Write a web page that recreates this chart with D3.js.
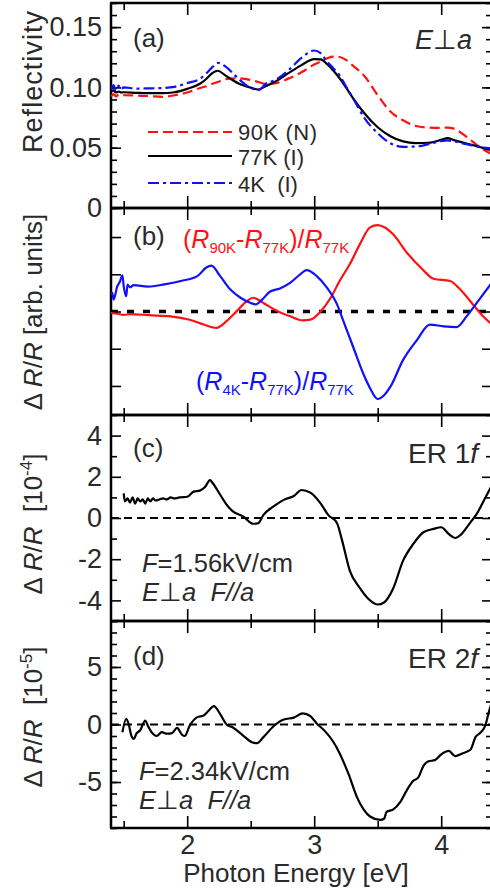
<!DOCTYPE html>
<html><head><meta charset="utf-8">
<script src="https://cdn.jsdelivr.net/npm/d3@7"></script>
<style>
body{margin:0;background:#fff}
svg{display:block}
text{font-family:"Liberation Sans",Arial,Helvetica,sans-serif;fill:#2a2a2a}
</style>
</head><body>
<svg id="chart" width="490" height="893"></svg>
<script>
// ---------------- DATA ----------------
// Panel (a): reflectivity
const energyA = [1.40,1.42,1.44,1.46,1.48,1.50,1.60,1.70,1.80,1.90,2.00,2.10,2.15,2.20,2.24,2.30,2.40,2.50,2.56,2.62,2.70,2.80,2.90,3.00,3.05,3.10,3.15,3.20,3.25,3.30,3.40,3.50,3.60,3.70,3.80,3.90,4.00,4.05,4.10,4.20,4.30,4.40];
const refl90K = [0.0925,0.0945,0.0925,0.0940,0.0930,0.0935,0.0933,0.0928,0.0922,0.0935,0.0958,0.0995,0.1010,0.1030,0.1045,0.1068,0.1076,0.1062,0.1045,0.1030,0.1036,0.1075,0.1125,0.1190,0.1215,0.1240,0.1255,0.1252,0.1228,0.1185,0.1088,0.0935,0.0800,0.0727,0.0680,0.0667,0.0665,0.0667,0.0658,0.0590,0.0507,0.0445];
const refl77K = [0.0968,0.0975,0.0958,0.0965,0.0958,0.0960,0.0955,0.0952,0.0952,0.0960,0.0988,0.1030,0.1070,0.1120,0.1138,0.1100,0.1035,0.0998,0.0982,0.1012,0.1052,0.1120,0.1185,0.1235,0.1232,0.1195,0.1140,0.1076,0.1000,0.0920,0.0780,0.0670,0.0595,0.0552,0.0538,0.0541,0.0565,0.0580,0.0563,0.0535,0.0507,0.0478];
const refl4K  = [0.0985,0.1020,0.0975,0.1015,0.0985,0.1000,0.0990,0.0992,0.0995,0.1005,0.1035,0.1072,0.1115,0.1170,0.1204,0.1175,0.1075,0.0995,0.0978,0.1030,0.1065,0.1145,0.1245,0.1306,0.1285,0.1215,0.1160,0.1100,0.1010,0.0920,0.0740,0.0620,0.0537,0.0507,0.0510,0.0529,0.0555,0.0560,0.0553,0.0529,0.0507,0.0493];
const reflTicks = [0, 0.05, 0.10, 0.15];

// Panel (b): difference spectra (arb. units)
const energyB90 = [1.40,1.45,1.50,1.55,1.70,1.87,2.02,2.13,2.23,2.31,2.39,2.47,2.52,2.60,2.71,2.81,2.91,2.97,3.05,3.13,3.20,3.28,3.36,3.44,3.50,3.56,3.62,3.73,3.85,3.94,4.07,4.15,4.25,4.33,4.40];
const diff90K  = [-0.04,-0.06,-0.09,-0.07,-0.10,-0.13,-0.22,-0.35,-0.44,-0.26,0.01,0.28,0.37,0.23,0.01,-0.13,-0.24,-0.22,0.00,0.37,0.82,1.27,1.81,2.26,2.32,2.25,2.08,1.58,1.14,0.88,0.82,0.59,0.19,-0.13,-0.35];
const energyB4 = [1.40,1.41,1.42,1.45,1.47,1.49,1.50,1.52,1.53,1.55,1.58,1.69,1.82,1.95,2.08,2.15,2.19,2.26,2.34,2.42,2.50,2.54,2.59,2.65,2.73,2.81,2.89,2.94,3.02,3.10,3.18,3.23,3.31,3.39,3.44,3.50,3.55,3.60,3.70,3.81,3.91,4.02,4.12,4.20,4.28,4.40];
const diff4K   = [0.45,0.50,0.32,0.68,0.80,0.97,0.68,0.41,0.72,0.65,0.71,0.67,0.73,0.82,0.95,1.18,1.23,0.95,0.59,0.37,0.23,0.19,0.32,0.53,0.62,0.77,1.00,1.11,0.95,0.64,0.19,-0.26,-0.98,-1.70,-2.06,-2.35,-2.25,-2.02,-1.30,-0.76,-0.35,-0.40,-0.42,-0.13,0.23,0.78];
const diffTicks = [-2,-1,0,1,2];

// Panel (c): ER 1f (x10^-4)
const energyC = [1.50,1.51,1.53,1.55,1.57,1.59,1.61,1.63,1.65,1.67,1.69,1.71,1.73,1.75,1.78,1.81,1.84,1.87,1.90,1.94,2.00,2.05,2.10,2.14,2.18,2.20,2.26,2.31,2.36,2.44,2.52,2.56,2.60,2.68,2.76,2.84,2.90,2.97,3.05,3.11,3.18,3.22,3.28,3.36,3.44,3.50,3.55,3.62,3.70,3.78,3.86,3.94,4.00,4.06,4.11,4.16,4.23,4.28,4.33,4.40];
const er1f = [1.2,0.8,0.95,0.75,1.0,0.7,0.95,0.8,0.9,0.7,0.95,0.8,0.95,0.85,0.9,0.95,0.9,1.0,0.95,1.0,1.03,1.28,1.33,1.5,1.84,1.7,1.13,0.65,0.32,0.08,-0.28,-0.25,0.15,0.56,0.88,1.07,1.36,1.23,0.71,0.15,-0.25,-1.1,-2.55,-3.4,-4.0,-4.2,-4.1,-3.45,-2.07,-1.26,-0.69,-0.53,-0.45,-0.78,-0.97,-0.78,-0.21,0.2,0.78,1.6];
const er1fTicks = [-4,-2,0,2,4];

// Panel (d): ER 2f (x10^-5)
const energyD = [1.49,1.52,1.54,1.56,1.58,1.60,1.63,1.67,1.69,1.73,1.76,1.80,1.84,1.88,1.92,1.96,1.98,2.02,2.08,2.13,2.17,2.21,2.26,2.31,2.36,2.44,2.51,2.55,2.60,2.68,2.76,2.84,2.91,2.97,3.02,3.09,3.15,3.20,3.27,3.34,3.39,3.44,3.52,3.55,3.57,3.62,3.68,3.73,3.78,3.82,3.86,3.90,3.95,4.00,4.06,4.11,4.17,4.23,4.27,4.31,4.35,4.37,4.40];
const er2f = [-0.67,0.5,0.0,-0.96,-1.25,-0.8,-0.5,0.35,-0.1,-0.8,-1.0,-0.67,-0.8,-0.75,-0.3,-0.9,-1.0,-0.1,0.64,0.78,1.22,1.6,0.9,0.0,-0.26,-0.96,-1.54,-1.62,-1.1,-0.15,0.43,0.6,0.96,0.72,0.09,-0.64,-1.5,-2.5,-4.3,-6.4,-7.4,-8.0,-8.3,-8.2,-7.6,-7.4,-6.7,-5.7,-4.9,-4.6,-3.6,-3.2,-3.1,-2.6,-2.3,-2.75,-2.5,-2.2,-1.1,-0.7,0.0,0.87,2.0];
const er2fTicks = [-5,0,5];

const xMajorTicks = [2,3,4];
const xMinorTicks = [1.5,2.5,3.5];
const legendLabels = ["90K (N)","77K (I)","4K  (I)"];

// ---------------- LAYOUT ----------------
const svg = d3.select("#chart");
const L = 111, R = 492;
const x = d3.scaleLinear().domain([1.4,4.4]).range([L,R]);
const FONT = 26, TICKFONT = 27;
const RED = "#ff1111", BLUE = "#1010ff";

const panels = [
  {id:"a", top:3,   bottom:208, domain:[0,0.17],  major:reflTicks, minor:d3.range(0,18).map(i=>i/100), fmt:d=>d===0?"0":d.toFixed(2), labels:true},
  {id:"b", top:208, bottom:415, domain:[-2.78,2.78], major:diffTicks, minor:[], fmt:null, labels:false},
  {id:"c", top:415, bottom:621, domain:[-5,5], major:er1fTicks, minor:[-5,-3,-1,1,3,5], fmt:d=>String(d), labels:true},
  {id:"d", top:621, bottom:828, domain:[-9,9], major:er2fTicks, minor:d3.range(-9,10), fmt:d=>String(d), labels:true}
];
panels.forEach(p=>{ p.y = d3.scaleLinear().domain(p.domain).range([p.bottom,p.top]); });

const defs = svg.append("defs");
panels.forEach(p=>{
  defs.append("clipPath").attr("id","clip-"+p.id)
    .append("rect").attr("x",L).attr("y",p.top).attr("width",R-L).attr("height",p.bottom-p.top);
});

function styleAxis(g){
  g.select(".domain").remove();
  g.selectAll(".tick line").attr("stroke","#000").attr("stroke-width",1.6);
  g.selectAll(".tick text").attr("font-size",TICKFONT).attr("fill","#2a2a2a")
    .attr("font-family",'"Liberation Sans",Arial,sans-serif');
}

// axes
panels.forEach((p,i)=>{
  const gl = svg.append("g").attr("transform",`translate(${L},0)`)
    .call(d3.axisLeft(p.y).tickValues(p.major).tickSize(-10).tickPadding(9)
      .tickFormat(p.labels ? p.fmt : ()=>""));
  styleAxis(gl);
  if(p.minor.length){
    const gm = svg.append("g").attr("transform",`translate(${L},0)`)
      .call(d3.axisLeft(p.y).tickValues(p.minor).tickSize(-6).tickFormat(()=>""));
    styleAxis(gm);
  }
  const gr = svg.append("g").attr("transform",`translate(${R},0)`)
    .call(d3.axisRight(p.y).tickValues(p.major).tickSize(-10).tickFormat(()=>""));
  styleAxis(gr);
  if(p.minor.length){
    const grm = svg.append("g").attr("transform",`translate(${R},0)`)
      .call(d3.axisRight(p.y).tickValues(p.minor).tickSize(-6).tickFormat(()=>""));
    styleAxis(grm);
  }
  const gt = svg.append("g").attr("transform",`translate(0,${p.top})`)
    .call(d3.axisTop(x).tickValues(xMajorTicks).tickSize(-12).tickFormat(()=>""));
  styleAxis(gt);
  const gtm = svg.append("g").attr("transform",`translate(0,${p.top})`)
    .call(d3.axisTop(x).tickValues(xMinorTicks).tickSize(-7).tickFormat(()=>""));
  styleAxis(gtm);
  const last = i===panels.length-1;
  const gb = svg.append("g").attr("transform",`translate(0,${p.bottom})`)
    .call(d3.axisBottom(x).tickValues(xMajorTicks).tickSize(-12).tickPadding(7)
      .tickFormat(last ? d=>String(d) : ()=>""));
  styleAxis(gb);
  const gbm = svg.append("g").attr("transform",`translate(0,${p.bottom})`)
    .call(d3.axisBottom(x).tickValues(xMinorTicks).tickSize(-7).tickFormat(()=>""));
  styleAxis(gbm);
});

// frame lines
panels.forEach(p=>{
  [p.top,p.bottom].forEach(yy=>{
    svg.append("line").attr("x1",L-1).attr("x2",R).attr("y1",yy).attr("y2",yy)
      .attr("stroke","#000").attr("stroke-width",2.5);
  });
});
svg.append("line").attr("x1",L).attr("x2",L).attr("y1",panels[0].top).attr("y2",panels[3].bottom)
  .attr("stroke","#000").attr("stroke-width",2.5);
svg.append("line").attr("x1",R).attr("x2",R).attr("y1",panels[0].top).attr("y2",panels[3].bottom)
  .attr("stroke","#000").attr("stroke-width",2.5);

// zero lines
const pb = panels[1], pc = panels[2], pd = panels[3];
svg.append("line").attr("x1",L).attr("x2",R).attr("y1",pb.y(0)).attr("y2",pb.y(0))
  .attr("stroke","#000").attr("stroke-width",3.5).attr("stroke-dasharray","7,9");
[pc,pd].forEach(p=>{
  svg.append("line").attr("x1",L).attr("x2",R).attr("y1",p.y(0)).attr("y2",p.y(0))
    .attr("stroke","#000").attr("stroke-width",2).attr("stroke-dasharray","8,5");
});

// curves
function drawCurve(p, xs, ys, color, dash, width){
  const line = d3.line().x(d=>x(d[0])).y(d=>p.y(d[1])).curve(d3.curveMonotoneX);
  svg.append("path").attr("clip-path",`url(#clip-${p.id})`)
    .datum(xs.map((v,i)=>[v,ys[i]]))
    .attr("d",line).attr("fill","none").attr("stroke",color)
    .attr("stroke-width",width||2.2).attr("stroke-dasharray",dash||null)
    .attr("stroke-linejoin","round");
}
const pa = panels[0];
drawCurve(pa, energyA, refl90K, RED, "10,5");
drawCurve(pa, energyA, refl77K, "#000", null);
drawCurve(pa, energyA, refl4K, BLUE, "11,4,3,4");
drawCurve(pb, energyB90, diff90K, RED, null);
drawCurve(pb, energyB4, diff4K, BLUE, null);
drawCurve(pc, energyC, er1f, "#000", null);
drawCurve(pd, energyD, er2f, "#000", null);

// legend (a)
const legStyles = [[RED,"10,5"],["#000",null],[BLUE,"11,4,3,4"]];
const legY = [132,156,183];
const legBase = [139.5,164.5,191.5];
legendLabels.forEach((lab,i)=>{
  svg.append("line").attr("x1",148).attr("x2",232).attr("y1",legY[i]).attr("y2",legY[i])
    .attr("stroke",legStyles[i][0]).attr("stroke-width",2.2).attr("stroke-dasharray",legStyles[i][1]);
  svg.append("text").attr("x",238).attr("y",legBase[i]).attr("font-size",22)
    .attr("textLength", i===0?79:null).attr("lengthAdjust","spacing")
    .style("white-space","pre").text(lab);
});

function txt(xp,yp,size,anchor){
  return svg.append("text").attr("x",xp).attr("y",yp).attr("font-size",size)
    .attr("text-anchor",anchor||"start").style("white-space","pre");
}
// panel labels
txt(133,47,FONT).text("(a)");
txt(133,245,FONT).text("(b)");
txt(133,457,FONT).text("(c)");
txt(133,665,FONT).text("(d)");

// E perp a (a)
{ const t = txt(472,49,27,"end");
  t.append("tspan").attr("font-style","italic").text("E");
  t.append("tspan").text("\u22A5");
  t.append("tspan").attr("font-style","italic").text("a"); }

// (b) labels
function diffLabel(xp,yp,color,sub1){
  const t = txt(xp,yp,25).style("fill",color);
  t.append("tspan").text("(");
  t.append("tspan").attr("font-style","italic").text("R");
  t.append("tspan").attr("font-size",15).attr("dy",5).text(sub1);
  t.append("tspan").attr("dy",-5).text("-");
  t.append("tspan").attr("font-style","italic").text("R");
  t.append("tspan").attr("font-size",15).attr("dy",5).text("77K");
  t.append("tspan").attr("dy",-5).text(")/");
  t.append("tspan").attr("font-style","italic").text("R");
  t.append("tspan").attr("font-size",15).attr("dy",5).text("77K");
}
diffLabel(183,248,RED,"90K");
diffLabel(196,390,BLUE,"4K");

// ER labels
function erLabel(yp,n){
  const t = txt(478,yp,28,"end");
  t.append("tspan").text("ER "+n);
  t.append("tspan").attr("font-style","italic").text("f");
}
erLabel(463,"1");
erLabel(668,"2");

// field labels
function fieldLabel(xp,y1,y2,val){
  const t1 = txt(xp,y1,25.5);
  t1.append("tspan").attr("font-style","italic").text("F");
  t1.append("tspan").text("="+val);
  const t2 = txt(xp,y2,25.5);
  t2.append("tspan").attr("font-style","italic").text("E");
  t2.append("tspan").text("\u22A5");
  t2.append("tspan").attr("font-style","italic").text("a");
  t2.append("tspan").text("  ");
  t2.append("tspan").attr("font-style","italic").text("F//a");
}
fieldLabel(142,572,601,"1.56kV/cm");
fieldLabel(139,780,809,"2.34kV/cm");

// y-axis titles
function yTitle(cy, build){
  const t = svg.append("text").attr("transform",`translate(42,${cy}) rotate(-90)`)
    .attr("text-anchor","middle").attr("font-size",FONT).style("white-space","pre");
  build(t);
  return t;
}
yTitle(82, t=>t.text("Reflectivity")).attr("font-size",27)
  .attr("textLength",142).attr("lengthAdjust","spacing");
yTitle(312, t=>{
  t.append("tspan").text("\u0394 ");
  t.append("tspan").attr("font-style","italic").text("R");
  t.append("tspan").text("/");
  t.append("tspan").attr("font-style","italic").text("R");
  t.append("tspan").text(" [arb. units]");
});
function erTitle(t,exp){
  t.append("tspan").text("\u0394 ");
  t.append("tspan").attr("font-style","italic").text("R");
  t.append("tspan").text("/");
  t.append("tspan").attr("font-style","italic").text("R");
  t.append("tspan").text("  [10");
  t.append("tspan").attr("font-size",17).attr("dy",-10).text(exp);
  t.append("tspan").attr("dy",10).text("]");
}
yTitle(524, t=>erTitle(t,"-4"));
yTitle(717, t=>erTitle(t,"-5"));

// x title
txt(296,882,FONT,"middle").text("Photon Energy [eV]");
</script>
</body></html>
